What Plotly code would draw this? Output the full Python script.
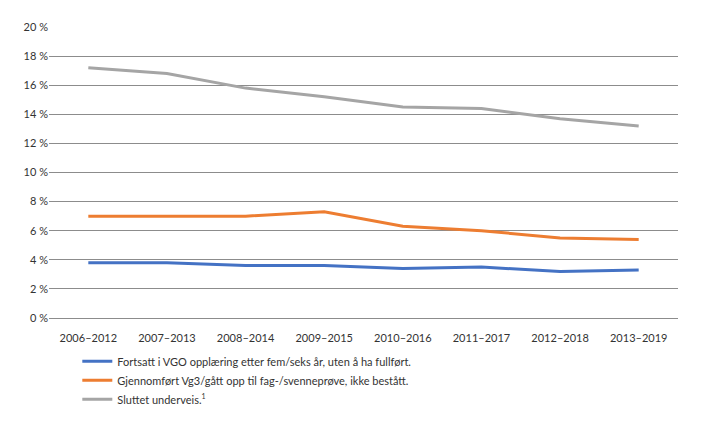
import plotly.graph_objects as go

categories = ["2006–2012", "2007–2013", "2008–2014", "2009–2015",
              "2010–2016", "2011–2017", "2012–2018", "2013–2019"]
fortsatt = [3.8, 3.8, 3.6, 3.6, 3.4, 3.5, 3.2, 3.3]
gjennomfort = [7.0, 7.0, 7.0, 7.3, 6.3, 6.0, 5.5, 5.4]
sluttet = [17.2, 16.8, 15.8, 15.2, 14.5, 14.4, 13.7, 13.2]

names = ["Fortsatt i VGO opplæring etter fem/seks år, uten å ha fullført.",
         "Gjennomført Vg3/gått opp til fag-/svenneprøve, ikke bestått.",
         "Sluttet underveis.<sup><span style='font-size:7px'>1</span></sup>"]
colors = ["#4472C4", "#ED7D31", "#A5A5A5"]

fig = go.Figure()
for vals, name, col in zip([fortsatt, gjennomfort, sluttet], names, colors):
    fig.add_trace(go.Scatter(x=categories, y=vals, name=name, mode="lines",
                             line=dict(color=col, width=3)))

font = "Lato, 'Open Sans', sans-serif"
fig.update_layout(
    width=719, height=425,
    margin=dict(l=49, r=41, t=27, b=106),
    plot_bgcolor="white", paper_bgcolor="white",
    font=dict(family=font, size=11, color="#333333"),
    showlegend=True,
    legend=dict(orientation="v", x=0.045, xanchor="left", y=-0.095, yanchor="top",
                font=dict(size=11, color="#333333"), bgcolor="rgba(0,0,0,0)",
                traceorder="normal", itemwidth=30, tracegroupgap=0),
    xaxis=dict(showgrid=False, showline=False, ticks="", ticklabelstandoff=12,
               tickfont=dict(size=11), range=[-0.5, 7.5], automargin=False),
    yaxis=dict(range=[0, 20], dtick=2, ticksuffix=" %", showgrid=True,
               gridcolor="#8c8c8c", gridwidth=1, zeroline=True,
               zerolinecolor="#8c8c8c", zerolinewidth=1, showline=False,
               ticks="", tickfont=dict(size=11), automargin=False),
)

fig.write_html("out.html")
